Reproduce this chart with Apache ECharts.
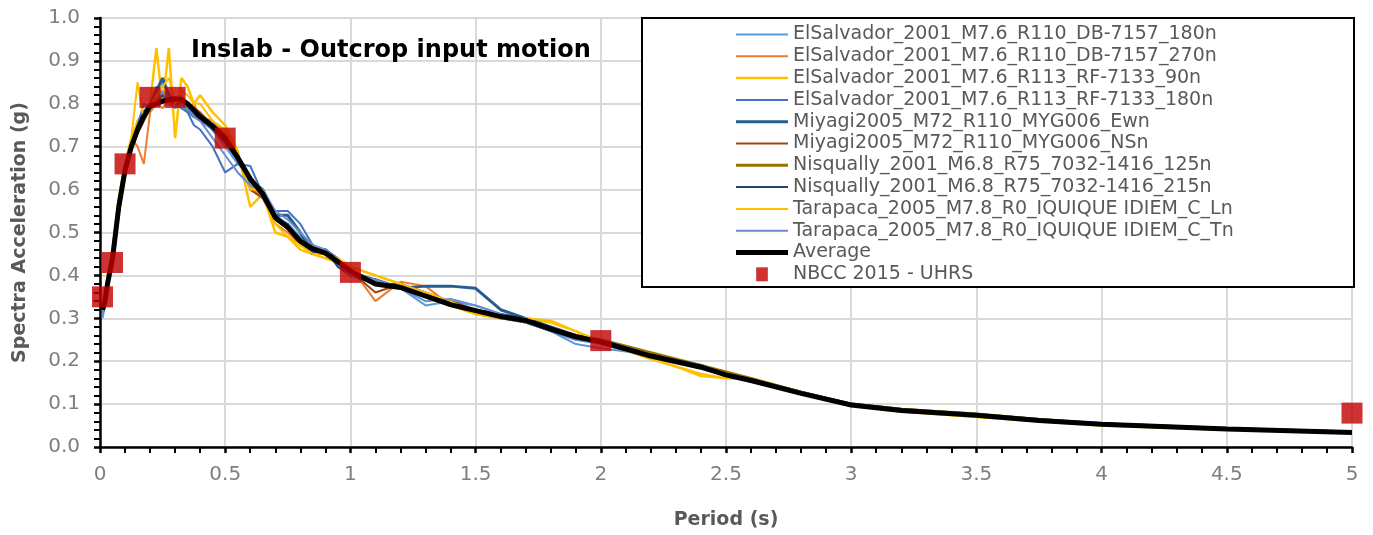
<!DOCTYPE html>
<html>
<head>
<meta charset="utf-8">
<script src="https://cdn.jsdelivr.net/npm/echarts@6/dist/echarts.min.js"></script>
<style>
html,body{margin:0;padding:0;background:#fff;}
#chart{width:1373px;height:535px;}
</style>
</head>
<body>
<div id="chart"></div>
<script>
const periods = [0.01,0.02,0.03,0.05,0.075,0.1,0.125,0.15,0.175,0.2,
  0.225,0.25,0.275,0.3,0.325,0.35,0.375,0.4,0.45,0.5,
  0.55,0.6,0.65,0.7,0.75,0.8,0.85,0.9,0.95,1.0,
  1.1,1.2,1.3,1.4,1.5,1.6,1.7,1.8,1.9,2.0,
  2.2,2.4,2.5,2.6,2.8,3.0,3.2,3.5,3.75,4.0,
  4.5,5.0];

const seriesNames = [
  'ElSalvador_2001_M7.6_R110_DB-7157_180n',
  'ElSalvador_2001_M7.6_R110_DB-7157_270n',
  'ElSalvador_2001_M7.6_R113_RF-7133_90n',
  'ElSalvador_2001_M7.6_R113_RF-7133_180n',
  'Miyagi2005_M72_R110_MYG006_Ewn',
  'Miyagi2005_M72_R110_MYG006_NSn',
  'Nisqually_2001_M6.8_R75_7032-1416_125n',
  'Nisqually_2001_M6.8_R75_7032-1416_215n',
  'Tarapaca_2005_M7.8_R0_IQUIQUE IDIEM_C_Ln',
  'Tarapaca_2005_M7.8_R0_IQUIQUE IDIEM_C_Tn'
];
const seriesColors = ['#5B9BD5','#ED7D31','#FFC000','#4472C4','#255E91','#9E480E','#997300','#264478','#FFC000','#698ED0'];
const seriesWidths = [2,2,2.5,2,3,2,3,2,2,2];

const es180n = [0.30,0.33,0.37,0.45,0.57,0.65,0.71,0.76,0.78,0.80,
  0.82,0.85,0.80,0.79,0.80,0.78,0.77,0.76,0.74,0.70,
  0.66,0.63,0.58,0.54,0.52,0.49,0.47,0.45,0.43,0.40,
  0.39,0.37,0.33,0.34,0.33,0.31,0.29,0.27,0.24,0.23,
  0.215,0.19,0.17,0.155,0.125,0.10,0.087,0.075,0.063,0.054,
  0.043,0.035];
const es270n = [0.32,0.34,0.39,0.44,0.55,0.63,0.72,0.70,0.66,0.78,
  0.80,0.79,0.81,0.80,0.82,0.79,0.80,0.77,0.76,0.73,
  0.68,0.61,0.58,0.52,0.50,0.47,0.46,0.46,0.44,0.42,
  0.34,0.385,0.375,0.33,0.31,0.30,0.29,0.275,0.26,0.24,
  0.21,0.19,0.172,0.158,0.128,0.10,0.088,0.076,0.064,0.054,
  0.043,0.035];
const esRF90n = [0.32,0.34,0.40,0.46,0.58,0.66,0.72,0.76,0.78,0.80,
  0.93,0.80,0.93,0.72,0.86,0.84,0.80,0.82,0.78,0.75,
  0.69,0.56,0.59,0.50,0.49,0.46,0.45,0.44,0.43,0.42,
  0.40,0.38,0.355,0.33,0.31,0.30,0.30,0.29,0.27,0.245,
  0.205,0.17,0.16,0.16,0.125,0.097,0.083,0.070,0.060,0.050,
  0.040,0.033];
const esRF180n = [0.31,0.33,0.38,0.44,0.56,0.64,0.70,0.75,0.80,0.79,
  0.84,0.82,0.80,0.80,0.79,0.78,0.75,0.74,0.70,0.64,
  0.66,0.655,0.59,0.55,0.55,0.52,0.47,0.46,0.44,0.41,
  0.39,0.37,0.35,0.34,0.32,0.30,0.29,0.27,0.25,0.245,
  0.215,0.19,0.17,0.155,0.125,0.098,0.086,0.074,0.062,0.053,
  0.042,0.034];
const miyEw = [0.32,0.34,0.38,0.43,0.55,0.64,0.70,0.74,0.78,0.80,
  0.83,0.86,0.82,0.80,0.80,0.79,0.77,0.77,0.74,0.71,
  0.67,0.62,0.60,0.54,0.54,0.50,0.45,0.46,0.43,0.40,
  0.39,0.37,0.375,0.375,0.37,0.32,0.30,0.28,0.26,0.245,
  0.215,0.19,0.17,0.158,0.128,0.10,0.088,0.076,0.064,0.054,
  0.043,0.035];
const miyNS = [0.32,0.34,0.38,0.44,0.56,0.64,0.69,0.73,0.76,0.79,
  0.80,0.81,0.80,0.81,0.81,0.80,0.79,0.78,0.75,0.72,
  0.68,0.60,0.58,0.53,0.51,0.47,0.46,0.45,0.43,0.41,
  0.36,0.38,0.36,0.34,0.32,0.305,0.29,0.275,0.26,0.245,
  0.212,0.188,0.17,0.156,0.126,0.098,0.086,0.075,0.063,0.053,
  0.042,0.034];
const nis125 = [0.32,0.34,0.38,0.44,0.56,0.65,0.70,0.74,0.77,0.80,
  0.81,0.82,0.81,0.81,0.80,0.79,0.79,0.77,0.75,0.72,
  0.67,0.62,0.59,0.53,0.51,0.48,0.47,0.45,0.43,0.41,
  0.385,0.37,0.35,0.33,0.315,0.305,0.295,0.278,0.26,0.25,
  0.22,0.19,0.175,0.16,0.128,0.10,0.088,0.077,0.064,0.054,
  0.043,0.035];
const nis215 = [0.32,0.34,0.38,0.44,0.56,0.64,0.70,0.75,0.78,0.79,
  0.80,0.82,0.81,0.80,0.80,0.80,0.78,0.76,0.75,0.71,
  0.67,0.62,0.59,0.53,0.52,0.48,0.45,0.46,0.42,0.40,
  0.38,0.38,0.36,0.335,0.32,0.31,0.30,0.28,0.26,0.25,
  0.215,0.19,0.17,0.157,0.127,0.099,0.087,0.075,0.063,0.054,
  0.043,0.035];
const tarLn = [0.33,0.35,0.40,0.46,0.58,0.66,0.72,0.85,0.76,0.79,
  0.82,0.84,0.86,0.80,0.83,0.82,0.80,0.80,0.76,0.74,
  0.68,0.60,0.60,0.52,0.49,0.47,0.45,0.45,0.44,0.42,
  0.40,0.38,0.36,0.34,0.31,0.30,0.30,0.295,0.27,0.245,
  0.21,0.165,0.16,0.158,0.124,0.096,0.083,0.070,0.060,0.050,
  0.040,0.033];
const tarTn = [0.31,0.33,0.37,0.44,0.56,0.64,0.69,0.74,0.77,0.79,
  0.81,0.83,0.80,0.79,0.80,0.79,0.77,0.76,0.72,0.68,
  0.64,0.61,0.60,0.55,0.53,0.50,0.47,0.46,0.43,0.40,
  0.39,0.37,0.34,0.345,0.33,0.31,0.29,0.27,0.25,0.24,
  0.21,0.185,0.165,0.152,0.124,0.098,0.086,0.074,0.062,0.053,
  0.042,0.034];
const average = [0.32,0.34,0.38,0.44,0.56,0.645,0.70,0.74,0.77,0.795,
  0.80,0.806,0.81,0.812,0.81,0.80,0.785,0.77,0.748,0.72,
  0.675,0.625,0.59,0.535,0.512,0.48,0.462,0.452,0.432,0.41,
  0.38,0.372,0.352,0.332,0.318,0.304,0.295,0.275,0.257,0.245,
  0.212,0.186,0.168,0.155,0.125,0.098,0.085,0.074,0.062,0.053,
  0.042,0.034];

const nbccPeriods = [0.01,0.05,0.1,0.2,0.3,0.5,1.0,2.0,5.0];
const nbccValues  = [0.35,0.43,0.66,0.815,0.815,0.72,0.407,0.248,0.079];

const recordValues = [es180n, es270n, esRF90n, esRF180n, miyEw, miyNS, nis125, nis215, tarLn, tarTn];

const pair = (xs, ys) => xs.map((x, i) => [x, ys[i]]);
const lineIcon = w => 'path://M0,0L52,0L52,' + w + 'L0,' + w + 'Z';

const series = recordValues.map((vals, i) => ({
  name: seriesNames[i],
  type: 'line',
  data: pair(periods, vals),
  symbol: 'none',
  showSymbol: false,
  lineStyle: { color: seriesColors[i], width: seriesWidths[i] },
  itemStyle: { color: seriesColors[i] },
  z: 2,
  animation: false
}));
series.push({
  name: 'Average',
  type: 'line',
  data: pair(periods, average),
  symbol: 'none',
  showSymbol: false,
  lineStyle: { color: '#000000', width: 5 },
  itemStyle: { color: '#000000' },
  z: 3,
  animation: false
});
series.push({
  name: 'NBCC 2015 - UHRS',
  type: 'scatter',
  data: pair(nbccPeriods, nbccValues),
  symbol: 'rect',
  symbolSize: 21,
  clip: false,
  itemStyle: { color: '#C00000' },
  z: 4,
  animation: false
});

const legendData = seriesNames.map((n, i) => ({ name: n, icon: lineIcon(seriesWidths[i]) }))
  .concat([{ name: 'Average', icon: lineIcon(5) },
           { name: 'NBCC 2015 - UHRS', icon: 'path://M0,0L10,0L10,12L0,12Z' }]);

const FONT = "'DejaVu Sans', sans-serif";
const chart = echarts.init(document.getElementById('chart'), null, { renderer: 'canvas' });
chart.setOption({
  backgroundColor: '#ffffff',
  animation: false,
  title: {
    text: 'Inslab - Outcrop input motion',
    left: 186, top: 34,
    textStyle: { fontFamily: FONT, fontWeight: 'bold', fontSize: 24, color: '#000' }
  },
  grid: {
    left: 100, right: 21, top: 18, bottom: 85,
    show: true, borderColor: '#000', borderWidth: 2, backgroundColor: 'transparent'
  },
  legend: {
    orient: 'vertical',
    left: 642, top: 18,
    padding: [7, 10, 6, 94],
    itemGap: 2.8,
    itemWidth: 52,
    itemHeight: 14,
    z: 10,
    data: legendData,
    textStyle: { fontFamily: FONT, fontSize: 19, lineHeight: 16, color: '#595959' }
  },
  graphic: [{
    type: 'rect',
    z: 9,
    shape: { x: 642, y: 18, width: 712, height: 269 },
    style: { fill: '#fff', stroke: '#000', lineWidth: 2 }
  }],
  xAxis: {
    type: 'value', min: 0, max: 5, interval: 0.5,
    name: 'Period (s)', nameLocation: 'middle', nameGap: 64,
    nameTextStyle: { fontFamily: FONT, fontWeight: 'bold', fontSize: 19, color: '#595959' },
    axisLine: { show: true, onZero: false, lineStyle: { color: '#000', width: 2.5 } },
    axisTick: { show: true, inside: false, length: 6, lineStyle: { color: '#000', width: 2.5 } },
    minorTick: { show: true, splitNumber: 5, length: 6, lineStyle: { color: '#000', width: 2 } },
    splitLine: { show: true, lineStyle: { color: '#d9d9d9', width: 2 } },
    axisLabel: { fontFamily: FONT, fontSize: 20, color: '#7f7f7f', margin: 18,
      formatter: v => String(+v.toFixed(1)) }
  },
  yAxis: {
    type: 'value', min: 0, max: 1, interval: 0.1,
    name: 'Spectra Acceleration (g)', nameLocation: 'middle', nameGap: 70,
    nameTextStyle: { fontFamily: FONT, fontWeight: 'bold', fontSize: 19, color: '#595959' },
    axisLine: { show: true, onZero: false, lineStyle: { color: '#000', width: 2.5 } },
    axisTick: { show: true, inside: false, length: 6, lineStyle: { color: '#000', width: 2.5 } },
    minorTick: { show: true, splitNumber: 5, length: 6, lineStyle: { color: '#000', width: 2 } },
    splitLine: { show: true, lineStyle: { color: '#d9d9d9', width: 2 } },
    axisLabel: { fontFamily: FONT, fontSize: 20, color: '#7f7f7f', margin: 20,
      formatter: v => v.toFixed(1) }
  },
  series: series
});
</script>
</body>
</html>
